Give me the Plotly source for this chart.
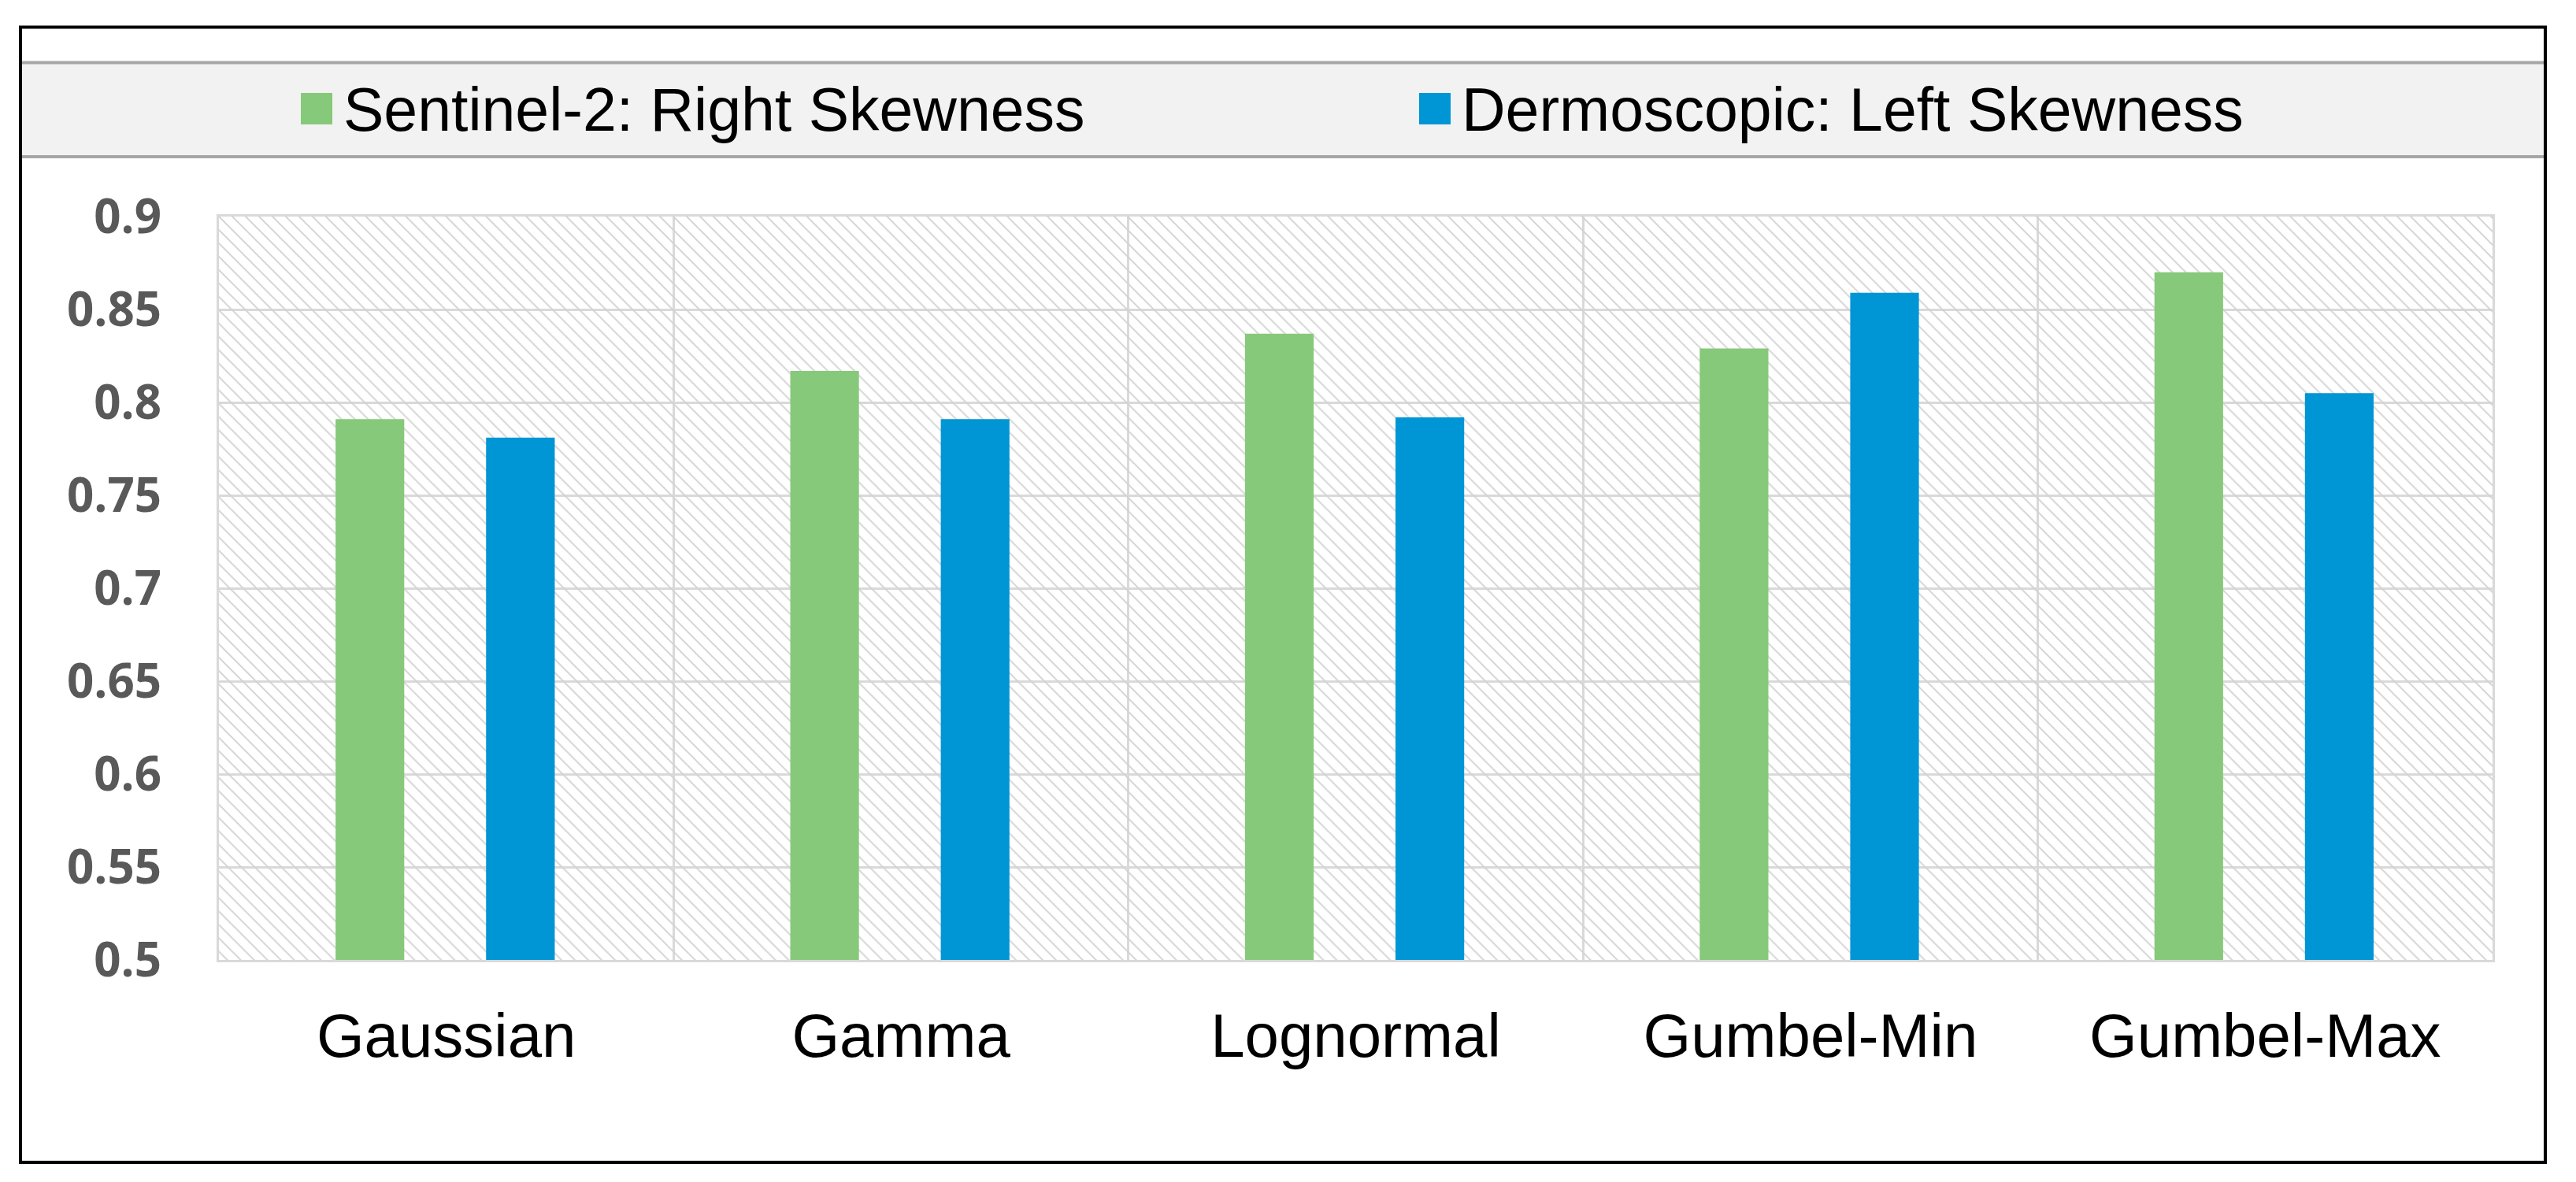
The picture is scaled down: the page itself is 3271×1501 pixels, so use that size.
import plotly.graph_objects as go

# ---- data ----
categories = ["Gaussian", "Gamma", "Lognormal", "Gumbel-Min", "Gumbel-Max"]
series_names = ["Sentinel-2: Right Skewness", "Dermoscopic: Left Skewness"]
sentinel_values = [0.791, 0.817, 0.837, 0.829, 0.870]
dermoscopic_values = [0.781, 0.791, 0.792, 0.859, 0.805]
y_tick_values = [0.5, 0.55, 0.6, 0.65, 0.7, 0.75, 0.8, 0.85, 0.9]
y_tick_labels = ["0.5", "0.55", "0.6", "0.65", "0.7", "0.75", "0.8", "0.85", "0.9"]

# ---- styles ----
GREEN = "#87C97A"
BLUE = "#0095D5"
GRID = "#D9D9D9"
PAGE_W, PAGE_H = 3271, 1501
OFF = 8                       # default body margin of the html page
W, H = PAGE_W - 2 * OFF, PAGE_H - 2 * OFF
# plot area in page pixels
PLOT_X0, PLOT_X1, PLOT_Y0, PLOT_Y1 = 278, 3165, 275, 1219
L, T = PLOT_X0 - OFF, PLOT_Y0 - OFF
R, B = W - (PLOT_X1 - OFF), H - (PLOT_Y1 - OFF)
PW, PH = PLOT_X1 - PLOT_X0, PLOT_Y1 - PLOT_Y0
Y_MIN, Y_MAX = y_tick_values[0], y_tick_values[-1]
ARIAL = "Liberation Sans, Arial, sans-serif"
FRAME_X0, FRAME_X1, FRAME_Y0, FRAME_Y1 = 26, 3232, 34.5, 1476


def px(x):
    return (x - PLOT_X0) / PW


def py(y):
    return (PLOT_Y1 - y) / PH


fig = go.Figure()

# hatched plot background (decoration spanning each category slot)
fig.add_trace(go.Bar(
    x=categories,
    y=[Y_MAX - Y_MIN] * len(categories),
    base=Y_MIN,
    width=1.0,
    marker=dict(color="rgba(0,0,0,0)", line=dict(width=0),
                pattern=dict(shape="\\", size=12, solidity=0.16,
                             fgcolor="#D2D2D2", fgopacity=1,
                             bgcolor="rgba(0,0,0,0)")),
    hoverinfo="skip",
    showlegend=False,
))

BAR_W = 0.151
fig.add_trace(go.Bar(
    x=categories, y=sentinel_values, name=series_names[0],
    marker=dict(color=GREEN, line=dict(width=0)),
    width=BAR_W, offset=-0.168 - BAR_W / 2,
))
fig.add_trace(go.Bar(
    x=categories, y=dermoscopic_values, name=series_names[1],
    marker=dict(color=BLUE, line=dict(width=0)),
    width=BAR_W, offset=0.163 - BAR_W / 2,
))

shapes = [
    # legend band
    dict(type="rect", xref="paper", yref="paper",
         x0=px(FRAME_X0 + 2), x1=px(FRAME_X1 - 2), y0=py(199), y1=py(80),
         fillcolor="#F2F2F2", line=dict(width=0), layer="below"),
    dict(type="line", xref="paper", yref="paper",
         x0=px(FRAME_X0 + 2), x1=px(FRAME_X1 - 2), y0=py(79.5), y1=py(79.5),
         line=dict(color="#A6A6A6", width=4)),
    dict(type="line", xref="paper", yref="paper",
         x0=px(FRAME_X0 + 2), x1=px(FRAME_X1 - 2), y0=py(199), y1=py(199),
         line=dict(color="#A6A6A6", width=4)),
    # legend swatches
    dict(type="rect", xref="paper", yref="paper",
         x0=px(382), x1=px(422), y0=py(158), y1=py(118),
         fillcolor=GREEN, line=dict(width=0)),
    dict(type="rect", xref="paper", yref="paper",
         x0=px(1802), x1=px(1842), y0=py(158), y1=py(118),
         fillcolor=BLUE, line=dict(width=0)),
    # outer black frame
    dict(type="rect", xref="paper", yref="paper",
         x0=px(FRAME_X0), x1=px(FRAME_X1), y0=py(FRAME_Y1), y1=py(FRAME_Y0),
         line=dict(color="black", width=4), fillcolor="rgba(0,0,0,0)"),
]

annotations = [
    dict(xref="paper", yref="paper", x=px(434), y=py(139),
         xanchor="left", yanchor="middle", showarrow=False,
         text=series_names[0], font=dict(family=ARIAL, size=77, color="black")),
    dict(xref="paper", yref="paper", x=px(1854), y=py(139),
         xanchor="left", yanchor="middle", showarrow=False,
         text=series_names[1], font=dict(family=ARIAL, size=77, color="black")),
]

fig.update_layout(
    width=W, height=H,
    margin=dict(l=L, r=R, t=T, b=B, pad=0),
    paper_bgcolor="white", plot_bgcolor="white",
    barmode="overlay",
    showlegend=False,
    shapes=shapes,
    annotations=annotations,
    xaxis=dict(
        type="category", categoryorder="array", categoryarray=categories,
        range=[-0.5, len(categories) - 0.5],
        tickson="boundaries", showgrid=True, gridcolor=GRID, gridwidth=3,
        showline=True, mirror=True, linecolor=GRID, linewidth=3,
        ticks="", ticklabelstandoff=26,
        tickfont=dict(family=ARIAL, size=78, color="black"),
        fixedrange=True,
    ),
    yaxis=dict(
        range=[Y_MIN, Y_MAX],
        tickvals=y_tick_values, ticktext=y_tick_labels,
        showgrid=True, gridcolor=GRID, gridwidth=3, zeroline=False,
        showline=True, mirror=True, linecolor=GRID, linewidth=3,
        ticks="", ticklabelstandoff=58,
        tickfont=dict(family="Open Sans, sans-serif", size=60, color="#595959", weight="bold"),
        fixedrange=True,
    ),
)

fig.write_html("out.html")
